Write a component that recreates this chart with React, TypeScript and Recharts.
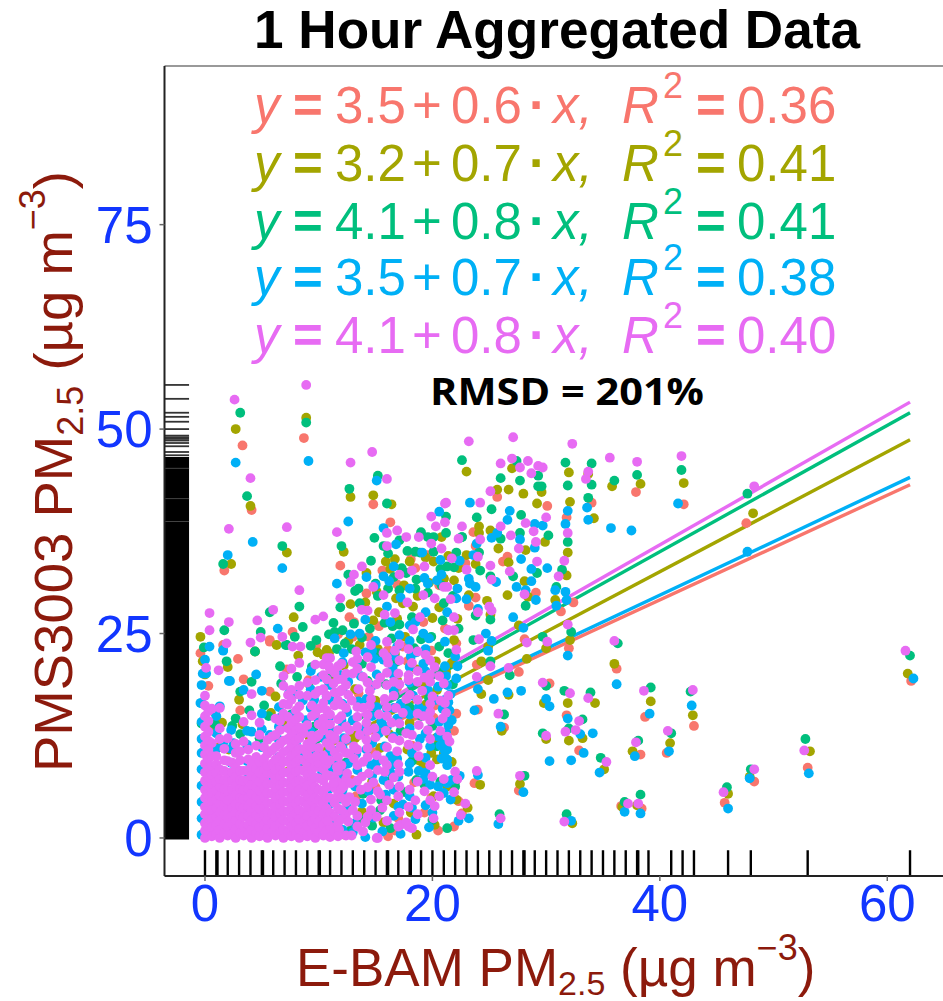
import { ScatterChart, Scatter, XAxis, YAxis, ReferenceLine, ReferenceArea } from 'recharts';

type Pt = [number, number];
type Col = [number, number[]];

const COLORS = { salmon: '#F8766D', olive: '#A3A500', green: '#00BF7D', blue: '#00B0F6', pink: '#E76BF3' };
const BLUE_TEXT = '#1236ff';
const RED_TEXT = '#8c1a0c';
const FONT = '"Liberation Sans", Arial, sans-serif';

const X_TICKS = [0, 20, 40, 60];
const Y_TICKS = [0, 25, 50, 75];
const X_MIN = -3.56;
const X_MAX = 64.9;
const Y_MIN = -4.65;
const Y_MAX = 94.4;

// rug marks
const X_RUG = [0, 1, 1.1, 2, 3, 4, 5, 5.1, 6, 7, 8, 9, 10, 10.1, 11, 12, 13, 14, 15, 16, 16.1, 17, 18, 18.1, 19, 20, 21, 22, 23, 24, 25, 26, 27, 28, 28.1, 29, 30, 31, 32, 33, 34, 35, 36, 37, 38, 38.1, 39, 41, 42, 43, 46, 48, 53, 62];
const Y_RUG = [55.4, 53.7, 52, 51.5, 50.9, 50, 49.2, 49, 48.8, 48.6, 48.3, 47.9, 47.2, 46.8];
const Y_RUG_BLOCKS: Pt[] = [[-0.2, 46.6]];
const Y_RUG_LIGHT = [38.7, 41.5, 45.2];

// fit line end points
const SALMON_LINE: Pt[] = [[0, 3.5], [62, 43.2]];
const OLIVE_LINE: Pt[] = [[0, 3.2], [62, 48.7]];
const GREEN_LINE: Pt[] = [[0, 4.1], [62, 52]];
const BLUE_LINE: Pt[] = [[0, 3.5], [62, 44.1]];
const PINK_LINE: Pt[] = [[0, 4.1], [62, 53.3]];

const EQ_INTERCEPT = ['3.5', '3.2', '4.1', '3.5', '4.1'];
const EQ_SLOPE = ['0.6', '0.7', '0.8', '0.7', '0.8'];
const EQ_R2 = ['0.36', '0.41', '0.41', '0.38', '0.40'];

// The dense points overlap too much to read one by one, so these columns are estimates of the covered area.
const PINK_CORE: Col[] = [
  [0.0, [0, 0.9, 1.8, 2.9, 3.8, 4.9, 5.9, 7, 8, 9.1, 10.2, 11.3, 12.4, 13.6, 14.9, 16.2, 17.4]],
  [0.3, [0.5, 1.4, 2.4, 3.4, 4.4, 5.4, 6.4, 7.5, 8.6, 9.7, 10.8, 11.9, 13, 14.3, 15.5]],
  [0.6, [0.2, 1.3, 2.4, 3.4, 4.5, 5.5, 6.6, 7.7, 8.8, 10, 11.6, 15.8]],
  [1, [0.5, 1.6, 2.6, 3.7, 4.7, 5.8, 6.8, 7.9, 9, 10]],
  [1.3, [0, 1, 2.1, 3.1, 4.2, 5.2, 6.3, 7.2, 8.4, 12.1, 13.4, 15.9]],
  [1.7, [0.6, 1.7, 2.8, 3.9, 5, 6, 7.1, 8.2, 9.5, 10.9]],
  [2, [0.3, 1.4, 2.5, 3.6, 4.6, 5.8, 6.9, 8, 9.4, 12.2]],
  [2.4, [0.5, 1.7, 2.7, 3.7, 4.9, 5.9, 7, 8, 9.2]],
  [2.7, [0, 1.1, 2.2, 3.2, 4.1, 5.3, 6.4, 7.5, 8.6, 10.4, 11.5]],
  [3.1, [0.6, 1.7, 2.8, 3.9, 4.9, 6, 7.1, 8.2, 9.5, 10.6]],
  [3.4, [0.3, 1.4, 2.6, 3.7, 4.8, 5.9, 7, 8.2, 11.8, 14.2]],
  [3.8, [0.5, 1.6, 2.7, 3.8, 4.9, 6, 7.1, 8.3, 9.6, 10.8]],
  [4.1, [0, 1, 2.1, 3.3, 4.4, 5.4, 6.5, 7.6, 9.1, 17.6, 15]],
  [4.5, [0.6, 1.7, 2.8, 3.9, 5, 6.2, 7.3, 8.5, 9.9, 11.3]],
  [4.8, [0.2, 1.3, 2.5, 3.6, 4.7, 5.8, 6.9, 8, 9.3, 12.6, 14.1]],
  [5.2, [0.5, 1.7, 2.8, 3.8, 5, 6.1, 7.3, 8.4, 9.7, 11.1]],
  [5.5, [0, 1.1, 2.2, 3.2, 4.3, 5.5, 6.6, 7.9, 8.8, 10.3, 12]],
  [5.9, [0.7, 1.8, 3, 4.2, 5.4, 6.6, 7.8, 9.1, 10.7, 12.4]],
  [6.2, [0.3, 1.4, 2.6, 3.8, 4.9, 6.1, 7.2, 8.3, 9.6, 11.1, 12.6, 14.6]],
  [6.6, [0.6, 1.8, 3, 4.1, 5.2, 6.4, 7.5, 8.7, 10, 11.5, 13.2, 14.3]],
  [6.9, [0, 1, 2.2, 3.3, 4.5, 5.6, 6.8, 8, 9.3, 10.5, 11.9, 15.2, 16.4, 18.6, 19.8]],
  [7.3, [0.7, 2, 3.2, 4.4, 5.6, 6.7, 8, 9.4, 10.7, 12.1, 13.4, 14.8, 16.3, 17.5]],
  [7.6, [0.2, 1.4, 2.5, 3.8, 4.9, 6.1, 7.4, 8.7, 10, 11.3, 12.6, 13.9, 16.9, 18.1, 20.7]],
  [8, [0.6, 1.8, 3, 4.2, 5.5, 6.8, 8.1, 9.2, 10.5, 11.9, 13.2, 14.5, 15.6]],
  [8.3, [0, 1.1, 2.3, 3.4, 4.6, 5.9, 7.1, 8.3, 9.6, 10.9, 12.2, 13.5, 14.8, 16.1, 17.5, 18.6, 21.4]],
  [8.7, [0.7, 2, 3.1, 4.4, 5.6, 6.8, 8.2, 9.5, 10.8, 12.8]],
  [9, [0.2, 1.5, 2.7, 4, 5.2, 6.4, 7.7, 9, 10.2, 11.5, 13.8, 17.4, 19]],
  [9.4, [0.6, 1.9, 3.2, 4.5, 5.8, 7, 8.3, 9.7, 11.1, 12.5, 14.9, 16.2]],
  [9.7, [0, 1.2, 2.4, 3.6, 4.9, 6.2, 7.4, 8.7, 15.2, 17.6, 19.3, 21.2]],
  [10, [0.7, 2, 3.3, 4.6, 5.9, 7.3, 8.7, 9.2, 12.6, 13.9, 15.8, 18]],
  [10.4, [0.3, 1.6, 2.9, 4.2, 5.5, 7, 8.4, 10.1, 13.2, 14.6, 16.5, 18.2, 19.9, 21.2]],
  [10.7, [0.9, 2.3, 3.6, 4.9, 6.2, 7.7, 9, 11.6, 13.9, 15.6, 17.4, 19.4, 22]],
  [11, [0.1, 1.4, 3.1, 4.9, 7.6, 9.5, 11.2, 12.6, 13.9, 15.1, 20.6, 22]],
  [11.4, [0.8, 2.6, 4.3, 6.1, 7.3, 10.5, 12.1, 16.2, 17.8, 20.2]],
  [11.7, [1.8, 3.6, 5.3, 6.8, 8.2, 9.9, 13.2, 14.5, 16.8, 19.4, 21]],
  [12, [2.3, 4.9, 6, 8.9, 11, 14.9, 16.3, 18.1, 21.3]],
  [12.4, [0.3, 2.9, 4.4, 7.2, 10.4, 12.1, 15.9, 18.7, 20.1]],
  [13.4, [1.4, 2.7, 7, 8.9, 10.8, 13.6, 16, 20.7, 21.9]],
  [14.3, [2.6, 6.2, 9.9, 11, 13.1, 15, 19, 22.1]],
  [16, [2.1, 4.6, 8.9, 11.1, 14.9, 16, 20.2, 22.1, 24]],
  [17.1, [3.1, 6.3, 8.1, 11.9, 14, 18.8, 21.7, 23.7]],
  [18.7, [2.9, 6.9, 11.2, 15.2, 16.9, 19.1, 22.8]],
  [19.8, [4.6, 8.9, 12.1, 14.4, 16.4, 20, 21.7]],
];
const BLUE_CORE: Col[] = [
  [-0.3, [0.4, 2.4, 4.4, 6.4, 8.4, 10.4, 12.1, 14.2, 16.5, 18.7]],
  [1, [0.5, 2.6, 4.7, 6.8, 8.8, 10.9, 12.8, 14.9]],
  [2.3, [0.7, 2.8, 5, 7.2, 9.2, 10.9, 13.2]],
  [3.7, [0.6, 2.7, 4.9, 7.2, 9.4, 11.4, 13.1]],
  [5, [0.4, 2.6, 4.8, 7, 9.1, 11.1, 13.3, 15.2]],
  [6.5, [0.6, 2.9, 5.2, 7.6, 9.9, 12, 13.6, 16]],
  [7.9, [0.7, 3, 5.4, 7.9, 10.4, 12.9, 15.3, 17.6]],
  [9.3, [0.8, 3.1, 5.8, 8.3, 10.8, 13, 15.9, 18.2, 20.4]],
  [10.9, [0.6, 2.4, 4.1, 6, 8.1, 10.2, 12.3, 14.8, 19]],
  [12.1, [1, 3.3, 5.9, 8.4, 11, 13.6, 16.4, 18.1, 19.8, 21.5]],
  [14.7, [7.6, 11.6, 14.9, 18.6, 22.9]],
  [16.6, [5.9, 9, 12.4, 15.9, 18, 19.9, 22.3]],
  [18, [5.1, 9.1, 13.4, 15.1, 19, 20.9, 24.1]],
  [19.4, [4, 8, 12.8, 15.6, 20.4, 23.1]],
  [21.3, [6.7, 8.9, 9.6, 10.8, 14.8, 18.7]],
];

const PINK_POINTS: Pt[] = [
  [61.6, 22.9], [52.7, 10.7], [48.3, 8.4], [48.3, 43], [45.6, 5.6], [42.9, 18.1], [41.9, 46.7], [40.7, 13.1], [38, 46], [38.6, 18], [37.9, 11.7], [38.1, 4.2], [37.2, 4.2], [36, 24.1],
  [32.3, 48.2], [31.9, 37.3], [31.6, 33.9], [31.1, 32], [31.9, 26.1], [32.1, 17.7], [32.9, 14.3], [31.7, 13], [32.6, 13.2], [33.7, 17.1], [35.3, 9.3], [31.6, 2], [26, 2.4], [27.7, 7.6], [29.7, 19], [30, 12.5], [25.8, 15.2],
  [23.9, 19.7], [26.7, 20.8], [28.3, 23.9], [30.1, 24], [25.1, 21], [24.1, 24.3], [23.2, 48.5], [27.1, 49], [35.6, 46.5], [33.7, 44.8], [33.5, 43.9], [26, 45.8], [27, 46.4], [28.4, 46.1], [29.3, 45.5], [29.7, 45.3], [27.7, 45.3], [28.7, 44.6], [25.1, 42.4],
  [24.2, 41], [30, 39.2], [28.2, 38.5], [22.6, 38.1], [21.1, 40.9], [26, 38.1], [26.9, 37], [28.9, 37.5], [29.1, 36.2], [27.6, 35.4], [24.2, 36.5], [22.3, 36.6], [21.7, 34.2], [24, 34.4], [29.2, 33.8], [23, 32.8], [25.1, 33.3], [26.8, 32.6], [25.2, 31.6], [21, 30.7], [28.1, 29.8], [21.6, 29.2], [25, 28.3], [25.2, 27.8], [24, 27.6], [21.9, 27], [21.4, 25.4], [21.9, 25.4], [22.1, 23],
  [22, 8.1], [23.9, 8.2], [21, 7.2], [22.2, 7.2], [21.9, 5.6], [22.9, 4.2], [21.3, 12.4], [21.1, 16.5], [21.2, 15.3], [20.7, 16.8], [20.9, 14.6], [21.4, 17.4],
  [8.9, 55.4], [2.6, 53.6], [4, 44], [2.1, 37.8], [7.2, 38], [8.3, 30.3], [6, 27.9], [0.4, 27.5], [2.1, 26.4], [4.6, 26.6], [0.4, 25.4], [4.9, 24.5], [6.8, 24.6], [7.7, 23.4], [8.4, 23.4], [4, 23.9], [1.9, 23.8], [0.1, 20.8], [1.2, 20.5],
  [14.7, 47.2], [12.8, 45.9], [16, 43.9], [11.6, 37.4], [16, 37.3], [16.9, 37.6], [13.8, 33.2], [13.1, 32.2], [12.8, 31.3], [14.8, 30.7], [11.9, 29.3], [13.8, 27.9], [14.3, 27.8], [10.4, 27.1], [9.7, 26.7],
  [17.7, 36.8], [18.8, 36.8], [19.9, 39.3], [21.2, 41], [20.3, 38.1], [21.1, 38.6], [19.9, 36], [16, 35.7], [20.8, 35.4], [19.3, 33.2], [17.1, 32.2], [18.2, 32.7], [20.2, 29.3], [21.3, 30.7], [15.7, 29.7], [17.8, 28.8], [19.2, 29.7], [16.7, 27.5], [15.8, 27.3], [18.9, 27], [18.3, 25.5], [21.4, 25.4],
  [12.7, 13.2], [13.6, 12.6], [14.2, 12], [15, 12.3], [13.1, 11.2], [12.7, 10.3], [13.1, 9.7], [13.9, 9.3], [15.1, 10.1], [15.7, 9.5], [15.2, 8.3], [13.8, 7.5], [11.6, 8.7], [12.5, 7.9], [11.3, 6.7], [12.2, 6.3], [12.8, 6.7], [12, 3.4], [13, 3.4], [14.6, 4.7], [15.2, 5.7], [17, 5.1], [18, 5.9], [17.9, 3.8], [14.6, 3.4], [15.1, 2.6], [12.6, 2], [13.9, 0.8], [15.2, 0], [17.2, 1.6], [18.2, 1.2], [17.7, 1.9], [20, 7.5],
  [16.5, 12.2], [17.7, 12.8], [18.2, 12.6], [17.9, 11.4], [18.8, 10], [19.6, 13.2], [17.7, 17], [18, 17.5], [18.8, 13.8], [17, 9], [13.9, 19.7], [14.6, 20.9], [16.1, 21.4], [17, 20.1], [17.9, 19.9], [17.9, 23.1], [14.6, 23.6], [13.3, 22.8], [13, 20.1], [14.5, 18], [14.6, 17], [14.5, 16.2], [11.9, 17.9], [12.6, 17.5], [16, 18.7], [15.8, 17], [17.9, 19.3], [19.8, 19.1], [19.8, 15.4], [18.2, 21.4], [16.6, 19.1], [14.2, 14.1], [15.3, 15.1], [16.8, 15.9], [19.1, 18], [20.2, 20.9], [19.4, 22.4],
  [9.4, 11.9], [10, 11], [10.6, 9.6], [9.8, 10], [11.4, 12.3], [11.9, 11.2], [12.4, 13.6], [13.4, 14.8], [14.9, 13.4], [15.9, 13.1], [16.4, 14.1], [13.9, 15.9], [12.9, 16.8], [13.5, 18.2], [15.1, 18.8], [15.4, 19.6], [16.6, 17.4], [11.3, 18.9], [10.9, 21], [12.1, 19.4], [13, 21.5], [15.7, 22.6], [16.7, 22.9], [18.7, 20.4], [19.3, 19.6], [20, 17.3], [21, 18.9], [20.6, 19.8], [17.4, 15.3], [19.2, 14.9], [20.7, 13.1], [21.5, 11.8], [16.9, 10.6], [15.8, 8.1], [14.4, 7.9], [14.8, 6.8], [16.2, 6.5], [16.6, 7.4], [12.7, 5], [13.7, 5.9], [11.8, 1], [10.8, 2.1], [11.7, 0.2], [12.9, 0.3], [14.1, 1.9], [13.2, 4.4], [15.6, 3.7], [18.5, 4.6], [19.3, 5.7], [20.6, 5.1], [20.2, 3.9], [22.5, 2.8], [15.4, 5.3], [17, 1.4], [17.9, 1.4], [20.1, 2.4], [15.1, 0],
];

const BLUE_POINTS: Pt[] = [
  [62.3, 19.5], [53.1, 7.9], [47.9, 7.3], [47.7, 35], [46, 3.6], [42.8, 16.2], [41.6, 40.9], [40.8, 10.6], [37.5, 37.6], [39.1, 15.2], [37.8, 10], [38.3, 3], [36.9, 3.2], [36.2, 18.8],
  [31.9, 40], [31.7, 38.4], [30.8, 30.3], [31.7, 30.1], [31.8, 29.1], [30.9, 28.4], [31.9, 22.3], [31.9, 14.6], [33, 12.7], [34.1, 12.8], [33.3, 10.4], [32.2, 9.5], [30.3, 9.4], [34.7, 8], [32.2, 2.1], [25.8, 1.7], [28, 5.6], [30, 17], [30.3, 16.1], [26, 13.6], [23.7, 15.6], [27.8, 18], [26.6, 17.8], [25.4, 17], [24, 18.2], [28, 25.7], [25.2, 24.1], [24.9, 22.9], [24.7, 25],
  [33.6, 40.4], [33.7, 38.9], [35.7, 37.9], [23.3, 41], [26.8, 40], [26.6, 38.9], [29, 38.4], [29.7, 38.2], [25.7, 37.3], [25.2, 36.7], [27.7, 36.5], [29, 35.5], [23.9, 36], [23.6, 34.6], [27.8, 34.1], [28.7, 32.9], [30.1, 33], [25.6, 31.3], [23.2, 31.7], [23.8, 30.7], [23.3, 31.1], [28.7, 31.4], [22.2, 30.5], [27.4, 30.7], [28.2, 30.3], [29.1, 29.1], [22.1, 29.3], [23, 29.2], [24, 28], [27.1, 27], [21.1, 24], [22, 22.2], [22.2, 21], [21.1, 21],
  [24, 7.7], [22.4, 7.6], [21, 5.5], [21.6, 4.7], [23.2, 2.4], [20.8, 9.7], [21.4, 13.8], [21.2, 12.9], [20.6, 14.2], [21.7, 14.4], [21.1, 11.8], [20.5, 12.4], [21.5, 15.6],
  [2.7, 45.9], [9.1, 46.1], [4.2, 36.2], [2, 34.6], [6.8, 33], [6.4, 25.6], [1.6, 22.9], [0.4, 23.4], [0, 21.8], [0.1, 20.1], [2.1, 19.2],
  [15.1, 43.7], [12.6, 38.7], [15.7, 37.9], [11.6, 31.1], [20.6, 39.9], [20.7, 34], [16.6, 33.2], [15.7, 32], [16.2, 31.4], [19.3, 31.8], [19.6, 31.1], [18, 30.5], [16, 28.3], [18, 26], [19.2, 25],
  [10.7, 17.3], [11, 16.9], [10, 14.4], [12, 14.4], [13, 14.4], [15.1, 16], [16, 15.8], [16.9, 14.6], [15.5, 14.2], [14.2, 17], [10.6, 12], [12.2, 12.2], [13.3, 10.3], [14.2, 10.8], [15.8, 11.2], [16.3, 10], [11, 10.7], [8.7, 9.9], [8.1, 9.5], [9.2, 7], [10.3, 8], [11.3, 9.1], [12.6, 9.1], [13.2, 6.3], [15.7, 7.1], [16.3, 8], [17.9, 8.1], [18.8, 8.2], [17, 7.5], [19.8, 6.5], [20.5, 6.3], [17, 3.8], [14.8, 2.5], [12.5, 3.7], [11.4, 2], [13.2, 1.8], [14.1, 0.1], [19.7, 1.3], [17.2, 0.5], [18.2, 3.7], [17.4, 4.1],
  [2.2, 19.2], [-0.2, 20.1], [1.6, 23], [4.5, 20], [5, 18], [3.4, 18.1], [1.3, 16.1], [-0.4, 16.5], [4.1, 13], [1.6, 11.6], [2.5, 11.6], [5.7, 12.6], [8.9, 14.4], [11, 18.7], [16.9, 23.4], [17.7, 15.6], [19.6, 18.1], [18.8, 16], [15.1, 20], [15.7, 21.8], [13.3, 21.6], [12.2, 22.6], [19.8, 11.2], [18.9, 12.1], [13.6, 25], [15, 24.1], [17.1, 24.8], [19.7, 24.4], [14.1, 22.7], [18.1, 22.2], [11.4, 24.4],
  [9.9, 15.8], [11.2, 13], [12.5, 15.4], [13.5, 16.7], [14, 13.3], [15.3, 12.8], [16, 13.6], [17.2, 16.4], [18.3, 17.4], [19.2, 21.3], [18.6, 22.7], [16.5, 20.8], [14.9, 21.9], [13.7, 19.8], [12.6, 19.1], [11.7, 20.1], [10.2, 19.7], [9.6, 16.9], [8.6, 16.8], [7.4, 17.7], [6.7, 14.8], [8, 11.6], [9.9, 9.6], [12, 7.7], [13.4, 8.3], [14.6, 8.9], [15.1, 9.3], [16.9, 9.7], [18.2, 10.4], [19.4, 9.8], [20.7, 11.3], [21.1, 10.6], [20.9, 15.8], [21.4, 16.6], [21.6, 17.6], [20.3, 16.9], [20.5, 18.5], [21.2, 19.8], [22.1, 19.5], [12.3, 5], [13.8, 4.2], [14.4, 5.7], [15.9, 5.3], [16.6, 2.7], [18.5, 2.3], [15.6, 0.8], [11.9, 4.8], [13, 0.7], [19.2, 7.2], [21.7, 7.1], [20, 3.1], [22.3, 2.1], [18.5, 26.4], [16.3, 26.4], [14.1, 26.7], [12.8, 24.9], [19.4, 27.6], [21.3, 27.6], [20.4, 31.5], [17.2, 29.4], [15, 30.9], [16.8, 35.9], [19.1, 34.9], [20.8, 32.2], [22.4, 33.9], [14.2, 31.9],
];

const GREEN_POINTS: Pt[] = [
  [62, 22.3], [52.8, 12.1], [48, 8.4], [47.7, 42.1], [45.9, 6.2], [42.7, 17.9], [41.9, 45], [41, 12.8], [38, 44.4], [39.2, 18.4], [38.1, 11.9], [38.3, 5.3], [36.9, 4.4], [36.3, 23.8],
  [31.7, 45.9], [31.9, 43.1], [31.9, 36.2], [31.4, 32.8], [30.9, 30.7], [32.2, 25.2], [31.6, 18], [33.2, 14.5], [32, 13.4], [33.9, 17.8], [34.8, 9.8], [31.8, 2.9], [25.9, 2.9], [28.1, 7.6], [30, 18.6], [29.7, 12.8], [26.3, 15.1], [26.8, 19.9], [29.7, 24.6], [25.1, 21.6], [23.6, 24.2], [21.8, 18.8],
  [22.6, 46.2], [34, 45.8], [34, 43.2], [36, 43.7], [33.7, 41.6], [27.4, 46.1], [29.3, 44.3], [26, 44], [27.7, 43.7], [29.3, 43], [29.6, 43], [25.2, 40.2], [27.8, 39.5], [23.9, 39.2], [30.2, 37], [27.7, 37.3], [26, 36.6], [22.6, 36.8], [22.1, 34.9], [24.1, 34.9], [21.3, 33.2], [21.9, 33.1], [24.2, 32.7], [29.2, 32.4], [25.1, 32], [27.1, 32], [28.2, 28.4], [23.8, 27.2], [25.1, 26.7], [22.3, 25.6],
  [22, 6.9], [22, 6.3], [21, 12], [20.4, 11.2],
  [3.1, 52], [8.9, 50.8], [3.7, 41.8], [6.8, 35.7], [1.6, 33.5], [8.3, 28.3], [5.7, 27.6], [1.7, 25.4], [7.9, 24.6], [4.9, 25.2], [7.1, 23.6], [4.4, 22.8], [-0.1, 23.3], [1.9, 21.6],
  [15.2, 44.3], [12.7, 42.7], [16, 40.9], [12, 35.7], [12.6, 32.2], [13.5, 30.5], [13.2, 30.2], [11.9, 28.2], [11.3, 26.3],
  [15.7, 35.7], [17.1, 36.4], [21.2, 39.3], [19.6, 36.8], [20.1, 36.8], [21.2, 37.3], [22.6, 36.8], [18.5, 35], [18.9, 34.9], [16.1, 34.8], [20.1, 35], [17.3, 33], [18.6, 31.6], [16.1, 30.5], [17.1, 30.3], [18.5, 30.5], [21, 28.7], [15.2, 29.6], [20.9, 26.6], [15.8, 26.3], [17.1, 26.1], [19, 24.3], [14.5, 25.6], [12.1, 25.4], [13.1, 26.2], [16.4, 24.4],
  [4.1, 19.1], [3.1, 17.9], [3.9, 15.6], [6.6, 21], [7.2, 23.6], [8.1, 19.7], [6.7, 18.9], [0.9, 13.9], [2.4, 13.7], [5.6, 14.9], [9.4, 20.9], [11.6, 23.1], [13.8, 21.3], [15.9, 18.8], [18.2, 18.6], [19, 14.9], [20, 13.7], [17.2, 13.1], [18.6, 7.1], [13.9, 5.4], [15.5, 4.6], [12.9, 1.1], [17.6, 5.6], [16.3, 1.2], [20, 2.2], [14.7, 1.5],
  [9.8, 24.2], [10.9, 24.9], [11.4, 25.2], [8.6, 25.8], [9.3, 23.5], [12.9, 23.1], [13.8, 24.5], [15.2, 22.6], [16.8, 21.5], [18.4, 23.2], [19.9, 24.6], [20.6, 23.4], [21.4, 22.6], [20.5, 20.3], [19.7, 17.1], [18, 16], [16.7, 17.4], [14.3, 19.2], [12.3, 23.8], [11.1, 20.2], [9.6, 13.6], [7.6, 15.1], [5.2, 16.2], [4.8, 12.2], [3.1, 12.7], [0.9, 15.3], [-0.3, 14], [2.7, 14.6], [16.5, 25.9], [18.2, 27], [13.6, 28.7], [15, 31.1], [17.7, 32.4], [19.6, 30], [20.7, 32.9], [14.6, 33.9], [16.6, 31.9], [21.8, 29.6], [20.8, 30.9], [14.9, 36.7], [17.8, 35.1], [19, 37.4], [18.2, 9.4], [19.3, 6.5], [20.7, 6.9], [13.6, 2.3], [15.4, 3.4], [21.3, 1.2], [16, 6.9], [12.4, 9.2],
];

const OLIVE_POINTS: Pt[] = [
  [61.8, 20.1], [53.2, 10.6], [47.9, 7.5], [48.2, 39.7], [46, 5.4], [42.9, 15], [42.1, 43.4], [40.9, 11.6], [38.3, 43.3], [39.2, 16.7], [37.6, 10.6], [38, 4], [36.7, 3.8], [36, 21.3],
  [32, 44.7], [32.1, 41.1], [31.9, 34.9], [31.8, 32.1], [30.8, 29.1], [32.1, 24.2], [31.9, 16.5], [33.2, 12.2], [32, 11.9], [34.3, 16.5], [35.1, 8.4], [32.3, 1.8], [27.7, 6.6], [29.8, 16.5], [30, 12.1], [26.1, 13.1], [26.7, 17.5], [24.3, 17.6], [24.9, 19.3], [28.3, 21.9], [30, 23.2], [27.6, 26], [24.3, 21.6], [24.9, 23.4],
  [23, 44.8], [33.7, 44.5], [35.8, 43], [34.2, 39.1], [27, 45.2], [25.7, 42.6], [26.7, 42.6], [28, 42.1], [29.6, 42.3], [29.2, 40.9], [24.1, 38.1], [25.1, 37.6], [29.9, 36.2], [25.8, 35.4], [24.1, 37.3], [23, 34.6], [28.2, 35.2], [26.7, 33.7], [23.8, 33.5], [22.3, 33], [28.1, 31.4], [21, 31.7], [21.9, 31.5], [26.6, 29.7], [28.4, 29.5], [23.2, 29.7], [24.8, 29], [25.1, 27.3], [22.2, 26.8], [21.9, 24.2],
  [21.3, 6.3], [24.2, 6.5], [22.1, 4.7], [23.1, 3.7], [21, 10.4], [20.4, 9.6],
  [2.7, 50], [8.9, 51.4], [4, 40.6], [7.2, 34.9], [2.3, 33.5], [7.8, 27], [-0.4, 24.6], [6.3, 23.6], [-0.2, 21.6], [2, 20.9], [0, 20],
  [14.8, 41.9], [12.8, 41.7], [16.4, 40.8], [12.2, 35], [14.1, 28.8], [12.8, 28.6],
  [20.8, 36.8], [15.9, 33.8], [16.7, 34.1], [18, 33.8], [20.1, 33.8], [21, 31.7], [16.8, 29.3], [17.4, 28.7], [18.3, 28.3], [15.3, 27.6], [20, 26.9],
  [9.9, 22.7], [10.4, 22.4], [10.9, 22.6], [10.7, 23], [1.2, 13.8], [0.7, 10.3], [3, 16.9], [8.2, 22.3], [6.2, 17.3], [12.2, 21.1], [4.4, 22.8], [1.5, 14.1], [0.5, 13.6],
  [16.7, 22.5], [18.6, 20.6], [20.4, 18.1], [17.6, 24.6], [15.2, 23.1], [13.6, 23.6], [19.4, 16.3], [17.8, 10.8], [19.2, 8.7], [20.1, 5.1], [16.6, 4.2], [14.7, 6.9], [13.8, 3.2], [12.3, 0.4], [18.6, 0.4], [15.7, 1.9], [19.9, 10.4], [18.8, 9.5], [18, 14.1], [16.2, 12.7],
  [9.1, 18.9], [11.3, 19.8], [13.2, 18.2], [15, 16.8], [16.9, 19.3], [19.1, 18.9], [20.3, 21.6], [21.7, 21.4], [21.2, 20.3], [12.6, 24.1], [14.8, 26.6], [16.9, 26.8], [18.7, 29.6], [19.7, 31.2], [20.6, 28.2], [14.2, 32.4], [16.3, 32.9], [17.5, 30.9], [19.4, 34.3], [21.4, 34.5], [15.1, 30.1], [13.2, 12.2], [11.1, 11.9], [15.4, 11], [20.3, 12.2], [21.7, 9.3], [18.1, 3.1], [20.2, 1.6], [14.3, 2.2], [9.2, 12.3], [7, 14.3], [5.8, 15.3], [1.2, 11.1], [0.2, 11.4], [3.3, 13.9], [2.1, 10.8], [7.9, 13.7],
];

const SALMON_POINTS: Pt[] = [
  [62.1, 19.2], [53, 8.6], [48.3, 6.9], [47.6, 38.5], [45.7, 4.3], [43, 13.7], [42.1, 40.8], [40.6, 10.4], [37.9, 42.3], [38.7, 14.8], [38.3, 10.2], [38.4, 3.6], [36.6, 3.9], [36.2, 20.7],
  [31.8, 39.2], [32.4, 28.8], [31.3, 27.7], [32, 23.2], [31.8, 15], [32.9, 10.7], [27.6, 5.8], [30.3, 18.9], [26.3, 13.5], [24, 15.7], [22.1, 15.2], [27.6, 20.3], [28.1, 24.3], [23.9, 21.2],
  [34, 41], [25.7, 41.7], [30.1, 40.6], [23.6, 37.4], [23.8, 35.7], [26.6, 34.4], [26.2, 33.8], [22.9, 33.6], [29.1, 30], [23.8, 29.4], [23.2, 28.4], [21.1, 25.6], [22.1, 23.8],
  [23.7, 6.7], [22.3, 4.5], [22.6, 3],
  [8.7, 48.9], [3.3, 48], [4.1, 40.1], [1.7, 32.7], [7.7, 25.2], [5.7, 24.2], [1.6, 23.6], [-0.4, 22.6], [3.1, 15.6], [5.7, 17.9], [9.1, 19.3], [5.7, 24],
  [14.8, 40.8], [16.3, 38.6], [11.9, 33.3], [12.7, 27], [18.1, 34.1], [19.6, 34.6], [15.6, 32.7],
  [17.8, 21.6], [19.9, 22.9], [16.1, 23], [14.4, 24.6], [20.2, 16.2], [18.4, 14.9], [15, 6.2], [17, 2.4], [19.3, 3.1], [13.3, 5.1], [20.5, 0.9], [16.1, 0.2], [18.4, 6.8],
  [11.7, 24.9], [13, 24.6], [15.3, 25.9], [17.4, 23.4], [19.2, 26.4], [20.6, 30.9], [16.9, 31], [18.5, 33], [14.2, 29.9], [21.1, 20.7], [21.9, 13.1], [20.1, 14.7], [16.9, 18.4], [13.5, 17.7], [9.8, 23.6], [7.2, 20.6], [2.9, 21.9], [3.4, 19.4], [0.3, 18.6], [18.2, 11.3], [14.8, 10.5], [12.9, 7.1], [19.9, 4.9], [16.7, 0.9], [21.9, 1.4], [13.1, 26.4],
];

const toRows = (points: Pt[]) => points.map(([x, y]) => ({ x, y }));
const fromColumns = (cols: Col[]) => cols.flatMap(([x, ys]) => ys.map((y) => ({ x, y })));

const EQ_ROWS = [
  { base: 123, color: COLORS.salmon },
  { base: 181, color: COLORS.olive },
  { base: 239, color: COLORS.green },
  { base: 295, color: COLORS.blue },
  { base: 353, color: COLORS.pink },
];

const Dot = (props: any) => <circle cx={props.cx} cy={props.cy} r={4.9} fill={props.fill} />;

function Labels() {
  return (
    <svg width={943} height={1001} style={{ position: 'absolute', left: 0, top: 0, pointerEvents: 'none' }} fontFamily={FONT}>
      <text x={254} y={48} fontSize={53} fontWeight={700} textLength={606} lengthAdjust="spacingAndGlyphs" fill="#000">
        1 Hour Aggregated Data
      </text>
      {EQ_ROWS.map((row, i) => (
        <g key={row.base} fill={row.color} fontSize={51}>
          <text x={254} y={row.base} fontStyle="italic">y</text>
          <text x={293} y={row.base} fontWeight={700}>=</text>
          <text x={335} y={row.base}>{EQ_INTERCEPT[i]}</text>
          <text x={412} y={row.base}>+</text>
          <text x={451} y={row.base}>{EQ_SLOPE[i]}</text>
          <text x={529} y={row.base} fontWeight={700}>·</text>
          <text x={553} y={row.base} fontStyle="italic">x,</text>
          <text x={622} y={row.base} fontStyle="italic">R</text>
          <text x={663} y={row.base - 25} fontSize={36}>2</text>
          <text x={696} y={row.base} fontWeight={700}>=</text>
          <text x={737} y={row.base}>{EQ_R2[i]}</text>
        </g>
      ))}
      <text x={430} y={405} fontFamily='"Open Sans", sans-serif' fontSize={38} fontWeight={700} textLength={274} lengthAdjust="spacingAndGlyphs" fill="#000">
        RMSD = 201%
      </text>
      <text x={296} y={986} fontSize={53} fill={RED_TEXT}>
        E-BAM PM
        <tspan fontSize={34} dy={9}>2.5</tspan>
        <tspan dy={-9}> (µg m</tspan>
        <tspan fontSize={36} dy={-26}>−3</tspan>
        <tspan dy={26}>)</tspan>
      </text>
      <text transform="translate(72 772) rotate(-90)" fontSize={54.5} fill={RED_TEXT}>
        PMS3003 PM
        <tspan fontSize={36} dy={11}>2.5</tspan>
        <tspan dy={-11}> (µg m</tspan>
        <tspan fontSize={36} dy={-27}>−3</tspan>
        <tspan dy={27}>)</tspan>
      </text>
    </svg>
  );
}

export default function App() {
  const tick = { fontSize: 51, fill: BLUE_TEXT, fontFamily: FONT };
  const tickLine = { stroke: '#666', strokeWidth: 1.5 };
  const axisLine = { stroke: '#222', strokeWidth: 2 };
  const trendLines: [Pt[], string][] = [
    [SALMON_LINE, COLORS.salmon],
    [OLIVE_LINE, COLORS.olive],
    [GREEN_LINE, COLORS.green],
    [BLUE_LINE, COLORS.blue],
    [PINK_LINE, COLORS.pink],
  ];

  return (
    <div style={{ position: 'absolute', left: 0, top: 0, width: 943, height: 1001, overflow: 'hidden', background: '#fff' }}>
      <ScatterChart width={943} height={1001} margin={{ top: 66, right: 0, bottom: 0, left: 0 }}>
        <XAxis
          type="number"
          dataKey="x"
          domain={[X_MIN, X_MAX]}
          ticks={X_TICKS}
          height={125}
          tick={tick}
          tickLine={tickLine}
          axisLine={axisLine}
          tickSize={5}
          tickMargin={4}
          allowDataOverflow
        />
        <YAxis
          type="number"
          dataKey="y"
          domain={[Y_MIN, Y_MAX]}
          ticks={Y_TICKS}
          width={164.5}
          tick={tick}
          tickLine={tickLine}
          axisLine={axisLine}
          tickSize={5}
          tickMargin={7}
          allowDataOverflow
        />
        <ReferenceLine y={Y_MAX} stroke="#999" strokeWidth={2} />
        {X_RUG.map((v) => (
          <ReferenceLine key={`xr-${v}`} segment={[{ x: v, y: Y_MIN }, { x: v, y: -1.5 }]} stroke="#000" strokeWidth={2.4} />
        ))}
        {Y_RUG.map((v) => (
          <ReferenceLine key={`yr-${v}`} segment={[{ x: X_MIN, y: v }, { x: -1.4, y: v }]} stroke="#333" strokeWidth={1.8} />
        ))}
        {Y_RUG_BLOCKS.map(([from, to]) => (
          <ReferenceArea key={`yb-${from}`} x1={X_MIN} x2={-1.4} y1={from} y2={to} fill="#000" fillOpacity={1} stroke="none" />
        ))}
        {Y_RUG_LIGHT.map((v) => (
          <ReferenceLine key={`yl-${v}`} segment={[{ x: X_MIN, y: v }, { x: -1.4, y: v }]} stroke="#444" strokeWidth={1} />
        ))}
        {trendLines.map(([line, color]) => (
          <Scatter
            key={color}
            data={toRows(line)}
            line={{ stroke: color, strokeWidth: 3.4 }}
            shape={() => null}
            isAnimationActive={false}
          />
        ))}
        <Scatter data={toRows(SALMON_POINTS)} fill={COLORS.salmon} shape={Dot} isAnimationActive={false} />
        <Scatter data={toRows(OLIVE_POINTS)} fill={COLORS.olive} shape={Dot} isAnimationActive={false} />
        <Scatter data={toRows(GREEN_POINTS)} fill={COLORS.green} shape={Dot} isAnimationActive={false} />
        <Scatter data={[...fromColumns(BLUE_CORE), ...toRows(BLUE_POINTS)]} fill={COLORS.blue} shape={Dot} isAnimationActive={false} />
        <Scatter data={[...fromColumns(PINK_CORE), ...toRows(PINK_POINTS)]} fill={COLORS.pink} shape={Dot} isAnimationActive={false} />
      </ScatterChart>
      <Labels />
    </div>
  );
}
